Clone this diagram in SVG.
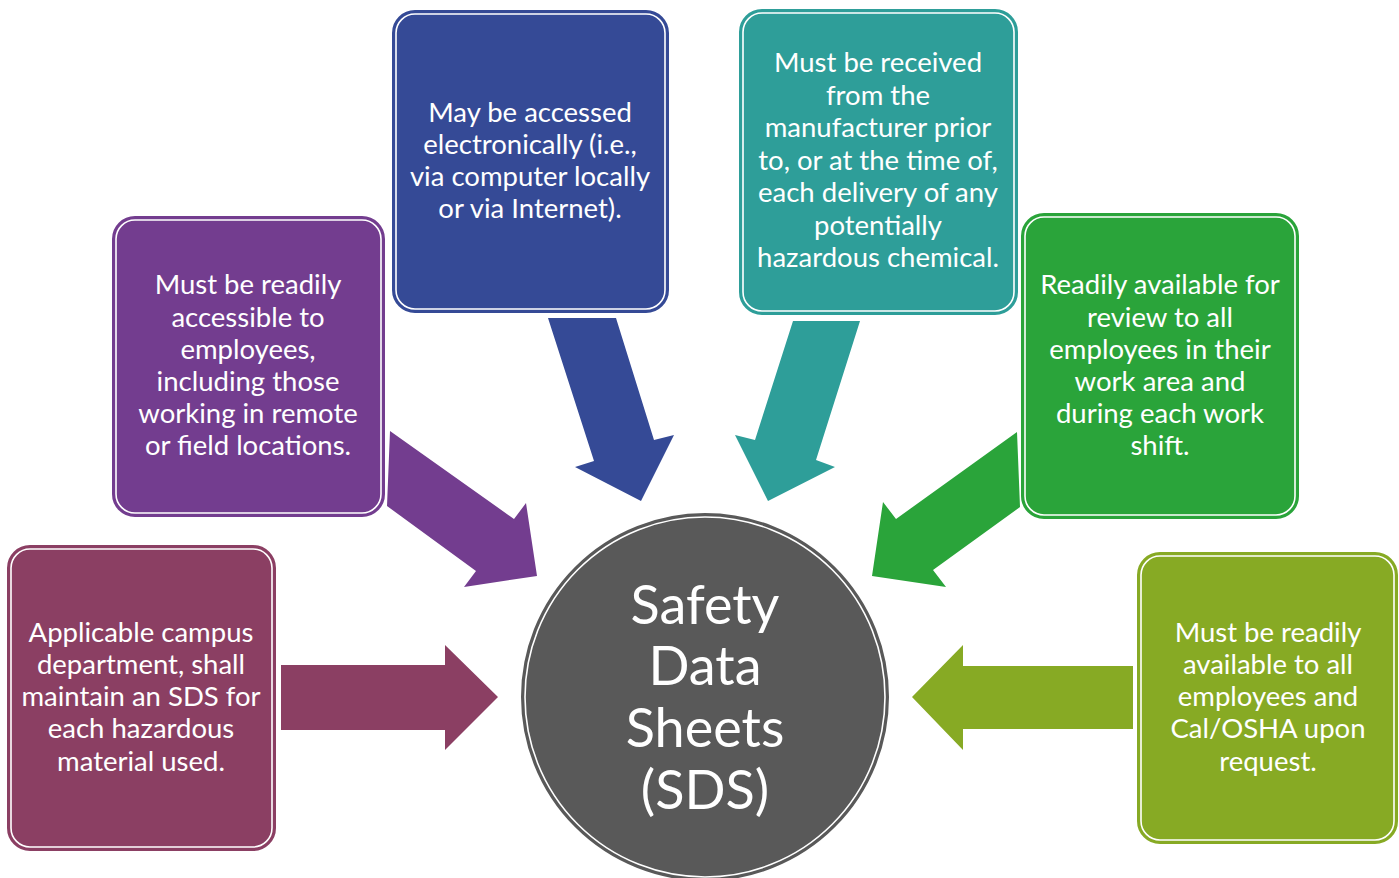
<svg xmlns="http://www.w3.org/2000/svg" width="1399" height="878" viewBox="0 0 1399 878">
  <style>
    .box-outer { stroke-width: 2; }
    .box-inner { fill: none; stroke: #ffffff; stroke-width: 1.6; }
    .label { font-family: Lato, "Open Sans", sans-serif; font-size: 27.5px; fill: #ffffff; text-anchor: middle; }
    .hub { font-family: Lato, "Open Sans", sans-serif; font-size: 54px; fill: #ffffff; text-anchor: middle; }
  </style>
  <rect width="1399" height="878" fill="#ffffff"/>

  <!-- connectors: block arrows pointing to the hub -->
  <g id="connectors">
    <polygon fill="#8B3F63" points="281,665 445,665 445,645 498,697 445,750 445,730 281,730"/>
    <polygon fill="#733D8F" points="390,431 514,519 526,503 537,576 464,587 476,571 387,506"/>
    <polygon fill="#354A96" points="548,318 616,318 654,440 674,435 641,501 575,467 594,461"/>
    <polygon fill="#2E9E99" points="793,321 860,321 816,460 835,467 768,501 735,435 755,440"/>
    <polygon fill="#2AA43A" points="1017,432 1020,507 933,570 946,587 872,576 883,502 896,519"/>
    <polygon fill="#87AA24" points="1133,666 963,666 963,645 912,697 963,750 963,729 1133,729"/>
  </g>

  <!-- hub -->
  <g id="hub">
    <circle cx="705" cy="697" r="183" fill="#595959" stroke="#595959" stroke-width="2"/>
    <circle cx="705" cy="697" r="180" fill="none" stroke="#ffffff" stroke-width="1.6"/>
    <text class="hub" x="705" y="624">Safety</text>
    <text class="hub" x="705" y="685">Data</text>
    <text class="hub" x="705" y="747">Sheets</text>
    <text class="hub" x="705" y="809">(SDS)</text>
  </g>

  <g id="node-maintain">
    <rect class="box-outer" x="8" y="546" width="267" height="304" rx="22" fill="#8B3F63" stroke="#8B3F63"/>
    <rect class="box-inner" x="11" y="549" width="261" height="298" rx="19"/>
    <text class="label" x="141" y="642">Applicable campus</text>
    <text class="label" x="141" y="674">department, shall</text>
    <text class="label" x="141" y="706">maintain an SDS for</text>
    <text class="label" x="141" y="738">each hazardous</text>
    <text class="label" x="141" y="771">material used.</text>
  </g>

  <g id="node-accessible">
    <rect class="box-outer" x="113" y="217" width="271" height="299" rx="22" fill="#733D8F" stroke="#733D8F"/>
    <rect class="box-inner" x="116" y="220" width="265" height="293" rx="19"/>
    <text class="label" x="248" y="294">Must be readily</text>
    <text class="label" x="248" y="327">accessible to</text>
    <text class="label" x="248" y="359">employees,</text>
    <text class="label" x="248" y="391">including those</text>
    <text class="label" x="248" y="423">working in remote</text>
    <text class="label" x="248" y="455">or field locations.</text>
  </g>

  <g id="node-electronic">
    <rect class="box-outer" x="393" y="11" width="275" height="301" rx="22" fill="#354A96" stroke="#354A96"/>
    <rect class="box-inner" x="396" y="14" width="269" height="295" rx="19"/>
    <text class="label" x="530" y="122">May be accessed</text>
    <text class="label" x="530" y="154">electronically (i.e.,</text>
    <text class="label" x="530" y="186">via computer locally</text>
    <text class="label" x="530" y="218">or via Internet).</text>
  </g>

  <g id="node-manufacturer">
    <rect class="box-outer" x="740" y="10" width="277" height="304" rx="22" fill="#2E9E99" stroke="#2E9E99"/>
    <rect class="box-inner" x="743" y="13" width="271" height="298" rx="19"/>
    <text class="label" x="878" y="72">Must be received</text>
    <text class="label" x="878" y="105">from the</text>
    <text class="label" x="878" y="137">manufacturer prior</text>
    <text class="label" x="878" y="170">to, or at the time of,</text>
    <text class="label" x="878" y="202">each delivery of any</text>
    <text class="label" x="878" y="235">potentially</text>
    <text class="label" x="878" y="267">hazardous chemical.</text>
  </g>

  <g id="node-review">
    <rect class="box-outer" x="1022" y="214" width="276" height="304" rx="22" fill="#2AA43A" stroke="#2AA43A"/>
    <rect class="box-inner" x="1025" y="217" width="270" height="298" rx="19"/>
    <text class="label" x="1160" y="294">Readily available for</text>
    <text class="label" x="1160" y="327">review to all</text>
    <text class="label" x="1160" y="359">employees in their</text>
    <text class="label" x="1160" y="391">work area and</text>
    <text class="label" x="1160" y="423">during each work</text>
    <text class="label" x="1160" y="455">shift.</text>
  </g>

  <g id="node-request">
    <rect class="box-outer" x="1138" y="553" width="259" height="290" rx="22" fill="#87AA24" stroke="#87AA24"/>
    <rect class="box-inner" x="1141" y="556" width="253" height="284" rx="19"/>
    <text class="label" x="1268" y="642">Must be readily</text>
    <text class="label" x="1268" y="674">available to all</text>
    <text class="label" x="1268" y="706">employees and</text>
    <text class="label" x="1268" y="738">Cal/OSHA upon</text>
    <text class="label" x="1268" y="771">request.</text>
  </g>
</svg>
